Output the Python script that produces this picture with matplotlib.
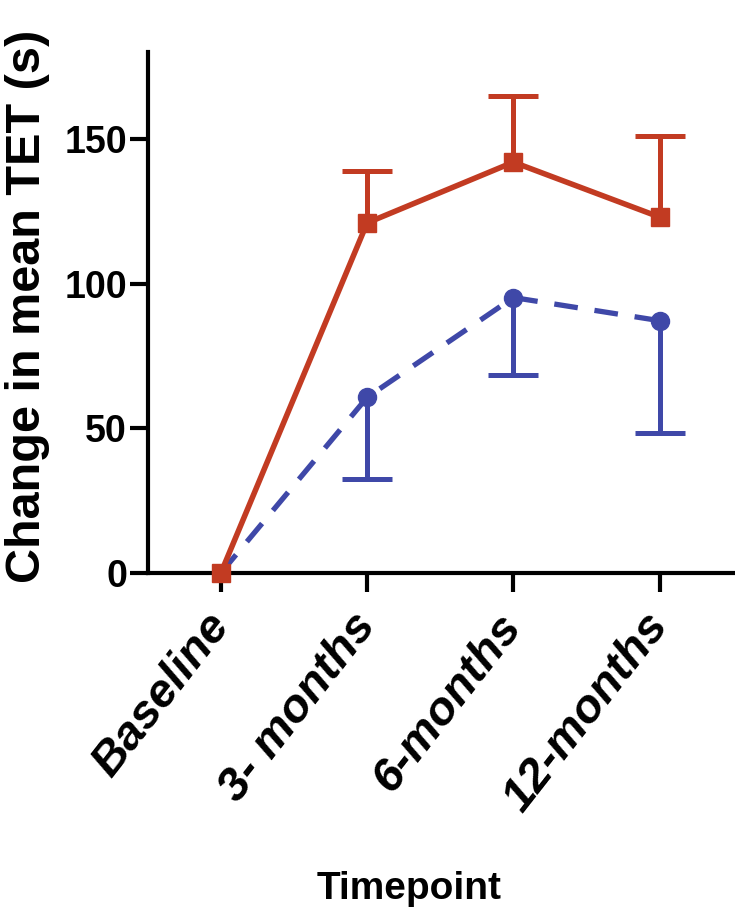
import numpy as np
import matplotlib
matplotlib.use('Agg')
import matplotlib.pyplot as plt

# values
timepoints = ['Baseline', '3- months', '6-months', '12-months']
red_mean = [0, 121, 142, 123]
red_top = [0, 139, 165, 151]      # upper end of error bar
blue_mean = [0, 60.7, 95.2, 87.2]
blue_bottom = [0, 32.4, 68.3, 48.3]  # lower end of error bar

RED = '#C23B22'
BLUE = '#3F48A8'

plt.rcParams['font.family'] = ['Liberation Sans', 'DejaVu Sans']
plt.rcParams['font.weight'] = 'bold'

fig = plt.figure(figsize=(7.35, 9.16), dpi=100)
ax = fig.add_axes([0.201, 0.3745, 0.796, 0.5685])

x = np.arange(len(timepoints))
red_mean = np.array(red_mean)
blue_mean = np.array(blue_mean)
red_up = np.array(red_top) - red_mean
blue_dn = blue_mean - np.array(blue_bottom)
zeros = np.zeros(len(x))

# blue dashed series (error bars downward only)
_, caps_b, _ = ax.errorbar(x[1:], blue_mean[1:], yerr=[blue_dn[1:], zeros[1:]],
                           fmt='none', ecolor=BLUE, elinewidth=3.6,
                           capsize=18, capthick=3.6, zorder=3)
caps_b[1].set_visible(False)
ax.plot(x, blue_mean, color=BLUE, lw=3.8, ls=(0, (4.5, 3.2)),
        marker='o', ms=13, markevery=[1, 2, 3], zorder=4, clip_on=False)

# red solid series (error bars upward only)
_, caps_r, _ = ax.errorbar(x[1:], red_mean[1:], yerr=[zeros[1:], red_up[1:]],
                           fmt='none', ecolor=RED, elinewidth=3.6,
                           capsize=18, capthick=3.6, zorder=5)
caps_r[0].set_visible(False)
ax.plot(x, red_mean, color=RED, lw=4, marker='s', ms=13, zorder=6,
        clip_on=False)

ax.set_xlim(-0.5, 3.5)
ax.set_ylim(0, 180)
ax.set_yticks([0, 50, 100, 150])
ax.set_xticks(x)
ax.set_xticklabels(timepoints, rotation=52, ha='right', va='center',
                   rotation_mode='anchor', fontsize=34, style='italic',
                   fontweight='bold')
for lab in ax.get_yticklabels():
    lab.set_fontsize(27)
    lab.set_fontweight('bold')

for s in ['top', 'right']:
    ax.spines[s].set_visible(False)
for s in ['left', 'bottom']:
    ax.spines[s].set_linewidth(3)
ax.tick_params(axis='y', width=3, length=13, direction='out', pad=2)
ax.tick_params(axis='x', width=3, length=14, direction='out', pad=19)

ax.set_ylabel('Change in mean TET (s)', fontsize=35, fontweight='bold',
              va='center', ha='center')
ax.yaxis.set_label_coords(-0.205, 0.512)
ax.set_xlabel('Timepoint', fontsize=28, fontweight='bold',
              va='center', ha='center')
ax.xaxis.set_label_coords(0.446, -0.607)

fig.savefig('out.png', dpi=100)
